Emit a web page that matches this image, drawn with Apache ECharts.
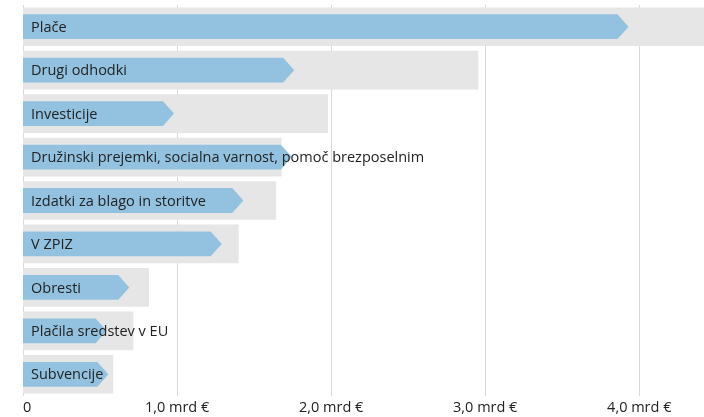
<!DOCTYPE html>
<html><head><meta charset="utf-8">
<script src="https://cdn.jsdelivr.net/npm/echarts@6/dist/echarts.min.js"></script>
<style>html,body{margin:0;padding:0;background:#fff}#c{width:704px;height:417px}</style>
</head><body><div id="c"></div>
<script>
const categories = ["Plače","Drugi odhodki","Investicije","Družinski prejemki, socialna varnost, pomoč brezposelnim","Izdatki za blago in storitve","V ZPIZ","Obresti","Plačila sredstev v EU","Subvencije"];
const totalValues = [4.5, 2.955, 1.98, 1.678, 1.643, 1.40, 0.818, 0.716, 0.586];
const arrowValues = [3.93, 1.76, 0.98, 1.745, 1.43, 1.29, 0.69, 0.543, 0.554];
const tickValues = [0, 1, 2, 3, 4];
const tickLabels = ["0", "1,0 mrd €", "2,0 mrd €", "3,0 mrd €", "4,0 mrd €"];

const FONT = '"Segoe UI", "Open Sans", sans-serif';
const chart = echarts.init(document.getElementById('c'), null, {renderer:'canvas'});
chart.setOption({
  animation:false,
  grid:{left:23, right:0, top:5, bottom:21, containLabel:false},
  xAxis:{type:'value', min:0, max:4.42, interval:1,
    axisLine:{show:false}, axisTick:{show:false},
    splitLine:{lineStyle:{color:'#d9d9d9', width:1}},
    axisLabel:{fontFamily:FONT, fontSize:14.5, color:'#222', margin:4, alignMinLabel:'left', showMaxLabel:false,
      formatter:(v)=>{const i=tickValues.indexOf(Math.round(v*100)/100);return i>=0?tickLabels[i]:'';}}},
  yAxis:{type:'category', data:categories, inverse:true,
    axisLine:{show:false}, axisTick:{show:false}, axisLabel:{show:false}, splitLine:{show:false}},
  series:[
    {type:'bar', data:totalValues, barWidth:'89%', itemStyle:{color:'#e6e6e6'}, silent:true, z:2},
    {type:'custom', z:3, data:arrowValues.map((v,i)=>[v,i]),
      encode:{x:0,y:1},
      renderItem:(params, api)=>{
        const v = api.value(0), i = api.value(1);
        const start = api.coord([0,i]);
        const tip = api.coord([v,i]);
        const band = api.size([0,1])[1];
        const h = band*0.57;
        const cy = tip[1];
        const bodyEnd = Math.max(start[0], tip[0]-11);
        return {type:'group', children:[
          {type:'polygon', shape:{points:[[start[0],cy-h/2],[bodyEnd,cy-h/2],[tip[0],cy],[bodyEnd,cy+h/2],[start[0],cy+h/2]]},
            style:{fill:'#92c2df'}},
          {type:'text', z2:10, style:{text:categories[i], x:start[0]+8, y:cy+1, verticalAlign:'middle', align:'left',
            font:'14.5px '+FONT, fill:'#222'}}
        ]};
      }}
  ]
});
</script></body></html>
